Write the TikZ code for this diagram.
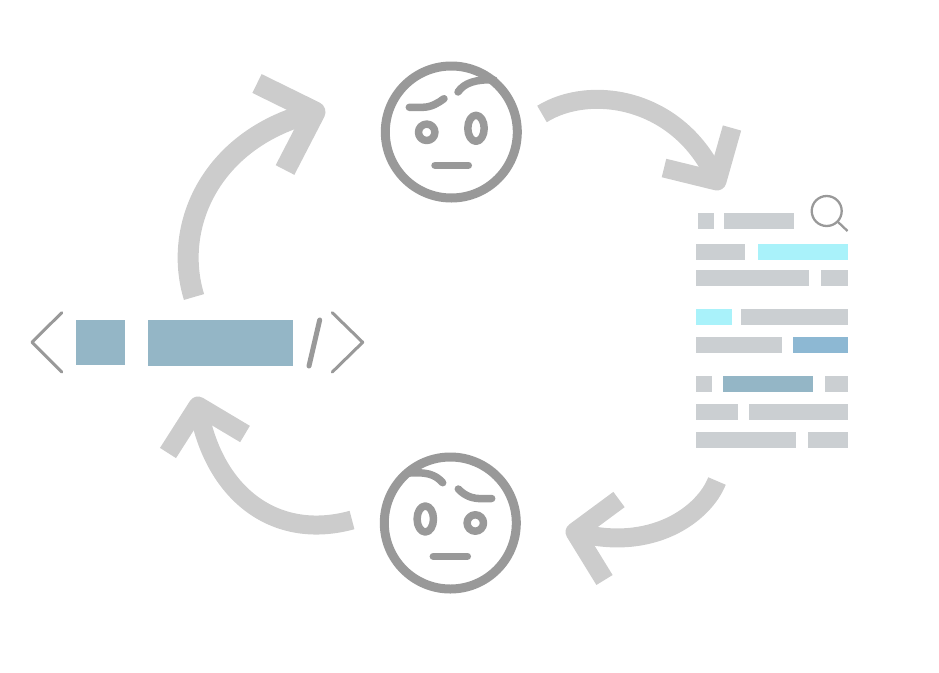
\documentclass[tikz,border=0pt]{standalone}
\definecolor{arrowgray}{HTML}{CCCCCC}
\definecolor{facegray}{HTML}{999999}
\definecolor{bargray}{HTML}{CBCFD2}
\definecolor{barcyan}{HTML}{A9F2FA}
\definecolor{barblue}{HTML}{8DB8D3}
\definecolor{codeblue}{HTML}{94B6C6}
\tikzset{
	facering/.style={draw=facegray, line width=9pt},
	facepart/.style={draw=facegray, line width=7.5pt, line cap=round},
	loopline/.style={draw=arrowgray, line width=#1},
	loopline/.default=19pt,
}
\begin{document}
\begin{tikzpicture}[line join=round,x=1pt,y=-1pt]
	\useasboundingbox (0,0) rectangle (939,672);
	% Gesicht oben
	\coordinate (fa) at (451.3,132);
	\draw [facering] (fa) circle (66);
	\draw [facepart] (409.3,107.3) -- (423,107.3) .. controls (432,107) and (438,103) .. (444,98.7);
	\draw [facepart] (458,92) .. controls (464,83) and (476,79) .. (494,80);
	\draw [facepart] (426.7,132.3) circle (8.2);
	\draw [facepart] (476,128.3) ellipse (8.2 and 13);
	\draw [facepart] (435,165.3) -- (468.3,165.3);
	% Gesicht unten
	\coordinate (fb) at (450.3,523);
	\draw [facering] (fb) circle (66);
	\draw [facepart] (410,473) .. controls (426,472) and (435,474) .. (442.7,482.7);
	\draw [facepart] (458.3,489) .. controls (465,496) and (473,499) .. (482,498.5) -- (491.7,498.5);
	\draw [facepart] (425.3,519) ellipse (8.2 and 13);
	\draw [facepart] (475.3,523) circle (8.2);
	\draw [facepart] (433.3,556.3) -- (467.3,556.3);
	% Code
	\draw [draw=facegray, line width=3pt, line cap=round] (61.7,312.7) -- (32,342.3) -- (61.7,372);
	\draw [draw=facegray, line width=3pt, line cap=round] (332.3,312.7) -- (362.7,342.3) -- (332.3,372);
	\draw [draw=facegray, line width=5pt, line cap=round] (319.7,320) -- (309,366);
	\fill [codeblue] (76,320) rectangle (125,365);
	\fill [codeblue] (148,320) rectangle (293,366);
	% Text
	\foreach \xa/\xb/\ya in {698/714/213, 724/794/213, 696/744.5/244, 696/809/270, 821/848/270,
		741/848/309, 696/782/337, 696/712/376, 825/848/376, 696/738/404, 749/848/404, 696/796/432, 808/848/432}
		\fill [bargray] (\xa,\ya) rectangle (\xb,\ya+16);
	\fill [barcyan] (758,244) rectangle (848,260);
	\fill [barcyan] (696,309) rectangle (732,325);
	\fill [barblue] (793,337) rectangle (848,353);
	\fill [codeblue] (723,376) rectangle (813,392);
	% Lupe
	\draw [draw=facegray, line width=2.3pt] (826.7,211) circle (15);
	\draw [draw=facegray, line width=2.3pt] (838,222) -- (847.5,231);
	% Pfeile
	\coordinate (p1) at (315,112);
	\draw [loopline=21pt] (194,297) .. controls (172,225) and (212,137) .. (p1);
	\draw [loopline=21pt] (257,83.5) -- (p1) -- (285,170);
	\coordinate (p2) at (717,181);
	\draw [loopline] (542,114) .. controls (590,84) and (680,97) .. (p2);
	\draw [loopline] (732,128) -- (p2) -- (664,168);
	\coordinate (p3) at (575,532);
	\draw [loopline] (717,481) .. controls (704,514) and (652,553) .. (p3);
	\draw [loopline] (619,499.5) -- (p3) -- (604.5,580);
	\coordinate (p4) at (198,406);
	\draw [loopline] (352,520) .. controls (276,541) and (213,495) .. (p4);
	\draw [loopline] (245,434) -- (p4) -- (168,453);
\end{tikzpicture}
\end{document}
